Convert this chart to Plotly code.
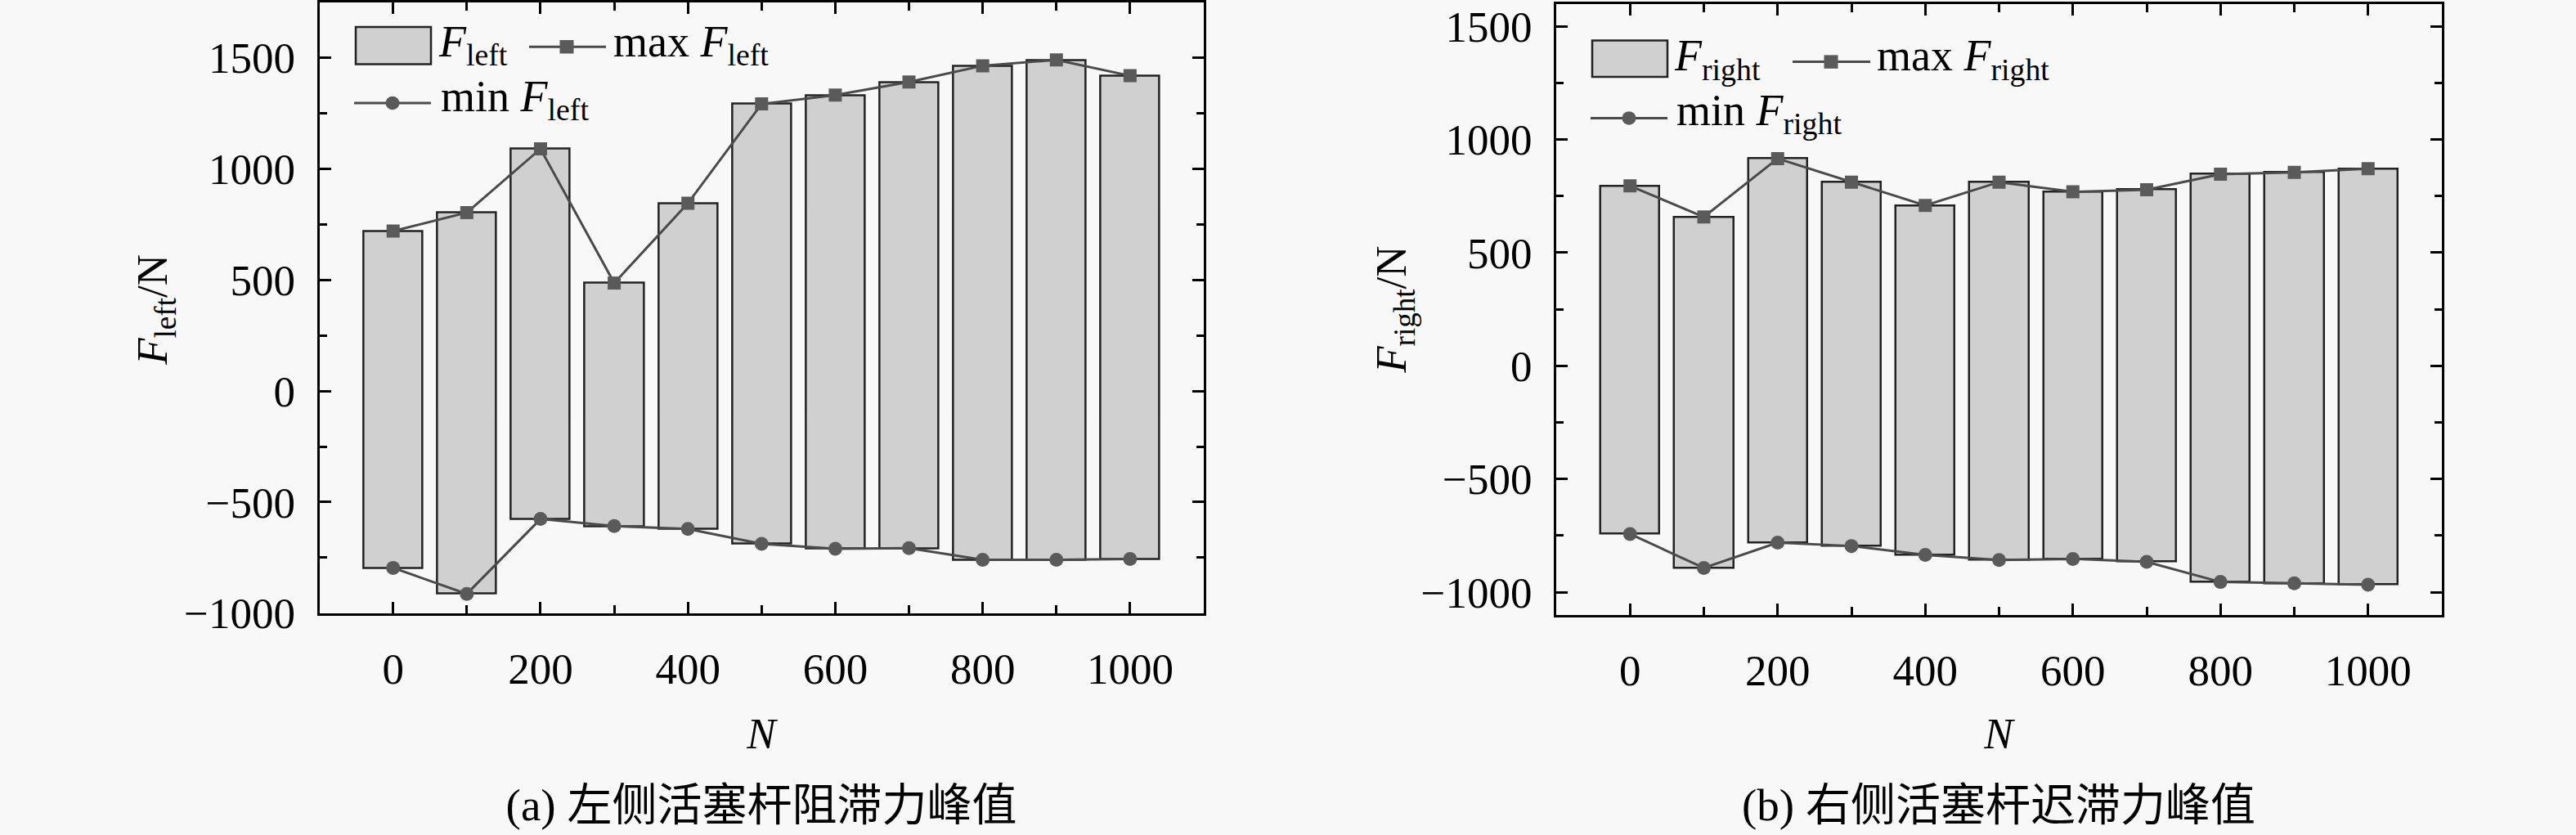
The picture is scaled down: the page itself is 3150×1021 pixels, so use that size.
import plotly.graph_objects as go

# Number of cycles N
N = [0, 100, 200, 300, 400, 500, 600, 700, 800, 900, 1000]

# (a) left piston rod, peak forces in newtons
left_max = [720, 803, 1090, 486, 845, 1292, 1332, 1391, 1464, 1490, 1419]
left_min = [-796, -913, -576, -608, -621, -688, -710, -707, -760, -760, -756]

# (b) right piston rod, peak forces in newtons
right_max = [795, 658, 916, 812, 709, 812, 769, 778, 847, 855, 871]
right_min = [-743, -893, -781, -796, -835, -858, -853, -866, -955, -961, -967]

x_ticks = [0, 200, 400, 600, 800, 1000]
y_ticks = [-1000, -500, 0, 500, 1000, 1500]

W, H = 3150, 1021
SERIF = "Liberation Serif, Noto Sans CJK SC"
BAR_FILL = "#d0d0d0"
EDGE = "#222222"
LINE = "#4a4a4a"
MARK = "#5a5a5a"


def px(x):
    return x / W


def py(y):
    return 1 - y / H


fig = go.Figure()

panels = [
    ("x", "y", left_max, left_min),
    ("x2", "y2", right_max, right_min),
]
for xa, ya, vmax, vmin in panels:
    fig.add_trace(go.Bar(
        x=N, y=[a - b for a, b in zip(vmax, vmin)], base=vmin, width=80,
        marker=dict(color=BAR_FILL, line=dict(color=EDGE, width=2.5)),
        xaxis=xa, yaxis=ya, showlegend=False,
    ))
    fig.add_trace(go.Scatter(
        x=N, y=vmax, mode="lines+markers",
        line=dict(color=LINE, width=3),
        marker=dict(symbol="square", size=16, color=MARK),
        xaxis=xa, yaxis=ya, showlegend=False,
    ))
    fig.add_trace(go.Scatter(
        x=N, y=vmin, mode="lines+markers",
        line=dict(color=LINE, width=3),
        marker=dict(symbol="circle", size=17, color=MARK),
        xaxis=xa, yaxis=ya, showlegend=False,
    ))

# page-wide overlay in pixel units for titles, captions and legend boxes
def text_trace(x, y, text, pos, size):
    fig.add_trace(go.Scatter(
        x=x, y=y, text=text, mode="text", textposition=pos, cliponaxis=False,
        textfont=dict(family=SERIF, size=size, color="black"),
        xaxis="x3", yaxis="y3", showlegend=False, hoverinfo="skip",
    ))

text_trace([931, 2444], [929, 929], ["<i>N</i>", "<i>N</i>"], "middle center", 53)
text_trace([931, 2444], [1019, 1019],
           ["(a) 左侧活塞杆阻滞力峰值", "(b) 右侧活塞杆迟滞力峰值"], "middle center", 55)

legends = [
    dict(sub="left", rect=(435, 32, 527, 79), t1=(537, 55),
         l1=(647, 741, 57), m1=693, t2=(750, 55),
         l2=(433, 527, 128), m2=480, t3=(539, 124)),
    dict(sub="right", rect=(1947, 49, 2039, 95), t1=(2048, 73),
         l1=(2192, 2287, 76), m1=2239, t2=(2295, 73),
         l2=(1945, 2039, 147), m2=1992, t3=(2050, 142)),
]
for lg in legends:
    s = lg["sub"]
    pts = [lg["t1"], lg["t2"], lg["t3"]]
    text_trace([p[0] for p in pts], [p[1] for p in pts],
               [f"<i>F</i><sub>{s}</sub>", f"max <i>F</i><sub>{s}</sub>",
                f"min <i>F</i><sub>{s}</sub>"], "middle right", 54)
    x0, y0, x1, y1 = lg["rect"]
    fig.add_shape(type="rect", xref="x3", yref="y3", x0=x0, y0=y0, x1=x1, y1=y1,
                  fillcolor=BAR_FILL, line=dict(color=EDGE, width=2.5))
    for (a, b, yy), m, sym in [(lg["l1"], lg["m1"], "rect"), (lg["l2"], lg["m2"], "circle")]:
        fig.add_shape(type="line", xref="x3", yref="y3", x0=a, y0=yy, x1=b, y1=yy,
                      line=dict(color=LINE, width=3))
        r = 8.5
        fig.add_shape(type=sym, xref="x3", yref="y3",
                      x0=m - r, y0=yy - r, x1=m + r, y1=yy + r,
                      fillcolor=MARK, line=dict(width=0))

# rotated y titles
for cx, sub in [(190, "left"), (1705, "right")]:
    fig.add_annotation(x=cx, y=389, xref="x3", yref="y3", textangle=-90,
                       text=f"<i>F</i><sub>{sub}</sub>/N", showarrow=False,
                       font=dict(family=SERIF, size=53, color="black"))

axis_style = dict(
    showline=True, linecolor="black", linewidth=3, mirror="ticks",
    ticks="inside", ticklen=14, tickwidth=2.5, tickcolor="black",
    showgrid=False, zeroline=False,
    tickfont=dict(family=SERIF, size=53, color="black"),
)
xstyle = dict(axis_style, range=[-100, 1100], tickvals=x_ticks, ticklabelstandoff=20,
              minor=dict(dtick=100, tick0=0, ticks="inside", ticklen=10,
                         tickwidth=2.5, tickcolor="black", showgrid=False))
ystyle = dict(axis_style, tickvals=y_ticks, ticklabelstandoff=16,
              minor=dict(dtick=250, tick0=0, ticks="inside", ticklen=9,
                         tickwidth=2.5, tickcolor="black", showgrid=False))

fig.update_layout(
    width=W, height=H,
    margin=dict(l=0, r=0, t=0, b=0),
    paper_bgcolor="#f8f8f8", plot_bgcolor="rgba(0,0,0,0)",
    showlegend=False, bargap=0,
    xaxis=dict(xstyle, domain=[px(390.6), px(1472)], anchor="y"),
    yaxis=dict(ystyle, domain=[py(772), py(0.7)], range=[-1000, 1750], anchor="x"),
    xaxis2=dict(xstyle, domain=[px(1903), px(2986)], anchor="y2"),
    yaxis2=dict(ystyle, domain=[py(774), py(2.7)], range=[-1100, 1600], anchor="x2"),
    xaxis3=dict(domain=[0, 1], range=[0, W], visible=False, anchor="y3"),
    yaxis3=dict(domain=[0, 1], range=[H, 0], visible=False, anchor="x3"),
)

# page body margin would push the figure 8px off the window
fig.write_html("out.html", config={"displayModeBar": False},
               post_script="document.body.style.margin='0';")
